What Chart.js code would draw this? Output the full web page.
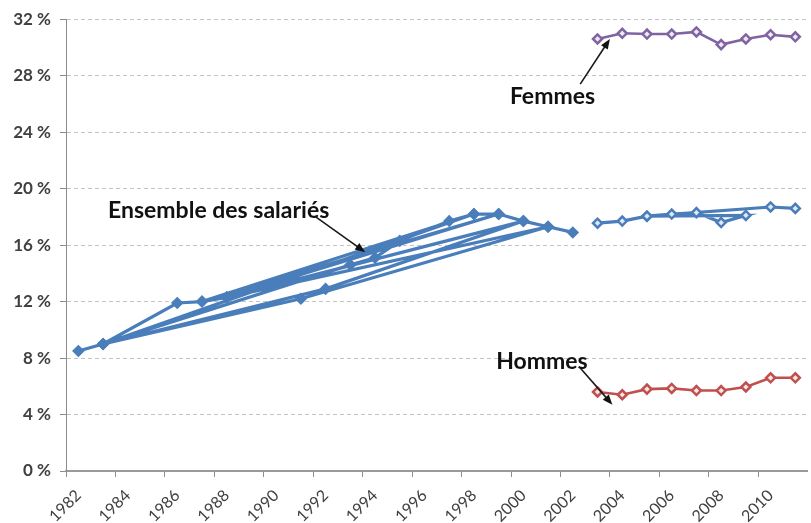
<!DOCTYPE html>
<html>
<head>
<meta charset="utf-8">
<script src="https://cdn.jsdelivr.net/npm/chart.js@4.4.1/dist/chart.umd.min.js"></script>
<style>
  html, body { margin: 0; padding: 0; background: #fff; overflow: hidden; }
  canvas { display: block; }
</style>
</head>
<body>
<canvas id="chart" width="818" height="523"></canvas>
<script>
// categories (one per year, label shown every 2 years)
const years = ['1982','1983','1984','1985','1986','1987','1988','1989','1990','1991',
               '1992','1993','1994','1995','1996','1997','1998','1999','2000','2001',
               '2002','2003','2004','2005','2006','2007','2008','2009','2010','2011'];

// Ensemble des salariés, first source: points in the order the line goes through them
const ensembleYears  = [1982, 1983, 1986, 1987, 1988, 2001, 1991, 1983, 1992, 2000, 1988, 1999,
                        1987, 1998, 1983, 1993, 1994, 1995, 1997, 1998, 1999, 2000, 2001, 2002];
const ensembleValues = [8.5, 9.0, 11.9, 12.0, 12.3, 17.3, 12.2, 9.0, 12.9, 17.7, 12.3, 18.2,
                        12.0, 18.2, 9.0, 14.6, 15.1, 16.3, 17.7, 18.2, 18.2, 17.7, 17.3, 16.9];

// Ensemble des salariés, second source
const ensemble2Years  = [2003, 2004, 2005, 2006, 2007, 2008, 2009, 2005, 2010, 2011];
const ensemble2Values = [17.55, 17.7, 18.05, 18.2, 18.3, 17.6, 18.1, 18.05, 18.7, 18.6];

const femmesYears  = [2003, 2004, 2005, 2006, 2007, 2008, 2009, 2010, 2011];
const femmesValues = [30.6, 31.0, 30.95, 30.95, 31.1, 30.2, 30.6, 30.9, 30.75];

const hommesYears  = [2003, 2004, 2005, 2006, 2007, 2008, 2009, 2010, 2011];
const hommesValues = [5.6, 5.4, 5.8, 5.85, 5.7, 5.7, 5.95, 6.6, 6.6];

const yTicks = [0, 4, 8, 12, 16, 20, 24, 28, 32];

const BLUE = '#4a7ebb';
const PURPLE = '#8064a2';
const RED = '#c0504d';

const toPoints = (xs, ys) => xs.map((x, i) => ({ x: String(x), y: ys[i] }));

// labels + arrows (positions in data units: year, percent)
const notes = [
    { text: 'Ensemble des salariés', at: [1983.2, 18.45], align: 'left',  from: [1991.6, 18.0], to: [1993.6, 15.5] },
    { text: 'Femmes',                at: [2002.9, 26.5],  align: 'right', from: [2002.3, 27.4], to: [2003.5, 30.6] },
    { text: 'Hommes',                at: [1998.9, 7.75],  align: 'left',  from: [2002.3, 7.3],  to: [2003.6, 4.7] }
];

const notesPlugin = {
    id: 'notes',
    afterDatasetsDraw(chart) {
        const { ctx, scales: { x, y } } = chart;
        const px = yr => x.getPixelForValue(yr - 1982);
        ctx.save();
        ctx.fillStyle = '#111';
        ctx.font = 'bold 23px Lato, "Open Sans", sans-serif';
        ctx.textBaseline = 'middle';
        notes.forEach(n => {
            ctx.textAlign = n.align;
            ctx.fillText(n.text, px(n.at[0]), y.getPixelForValue(n.at[1]));

            const x1 = px(n.from[0]), y1 = y.getPixelForValue(n.from[1]);
            const x2 = px(n.to[0]),   y2 = y.getPixelForValue(n.to[1]);
            const ang = Math.atan2(y2 - y1, x2 - x1);
            ctx.strokeStyle = '#1a1a1a';
            ctx.lineWidth = 1.6;
            ctx.beginPath();
            ctx.moveTo(x1, y1);
            ctx.lineTo(x2 - 6 * Math.cos(ang), y2 - 6 * Math.sin(ang));
            ctx.stroke();
            ctx.beginPath();
            ctx.moveTo(x2, y2);
            ctx.lineTo(x2 - 10 * Math.cos(ang) + 4 * Math.sin(ang), y2 - 10 * Math.sin(ang) - 4 * Math.cos(ang));
            ctx.lineTo(x2 - 10 * Math.cos(ang) - 4 * Math.sin(ang), y2 - 10 * Math.sin(ang) + 4 * Math.cos(ang));
            ctx.closePath();
            ctx.fill();
        });
        ctx.restore();
    }
};

const lineSet = (data, color, fill, width) => ({
    data,
    borderColor: color,
    backgroundColor: fill,
    borderWidth: width,
    tension: 0,
    pointStyle: 'rectRot',
    pointRadius: 4.5,
    pointBorderWidth: 2.5,
    pointBorderColor: color,
    pointBackgroundColor: fill,
});

new Chart(document.getElementById('chart'), {
    type: 'line',
    data: {
        labels: years,
        datasets: [
            lineSet(toPoints(ensembleYears, ensembleValues), BLUE, BLUE, 3.2),
            lineSet(toPoints(ensemble2Years, ensemble2Values), BLUE, '#dfe8f4', 3.2),
            lineSet(toPoints(femmesYears, femmesValues), PURPLE, '#efe9f5', 2.6),
            lineSet(toPoints(hommesYears, hommesValues), RED, '#f6e6e6', 2.6),
        ]
    },
    options: {
        responsive: false,
        animation: false,
        events: [],
        layout: { padding: { top: 9, left: 4, right: 2, bottom: 0 } },
        plugins: { legend: { display: false }, tooltip: { enabled: false } },
        scales: {
            x: {
                type: 'category',
                offset: true,
                afterFit: s => { s.height = 52; },
                grid: {
                    offset: true,
                    drawOnChartArea: false,
                    tickLength: 6,
                    tickColor: ctx => ctx.index % 2 === 0 ? '#8c8c8c' : 'rgba(0,0,0,0)',
                    color: ctx => ctx.index % 2 === 0 ? '#8c8c8c' : 'rgba(0,0,0,0)',
                },
                border: { color: '#9a9a9a', width: 2 },
                ticks: {
                    autoSkip: false,
                    minRotation: 45,
                    maxRotation: 45,
                    padding: 9,
                    color: '#404040',
                    font: { family: 'Lato, "Open Sans", sans-serif', size: 16 },
                    callback: (v, i) => i % 2 === 0 ? years[i] : ''
                }
            },
            y: {
                min: 0,
                max: 32,
                afterFit: s => { s.width = 62; },
                afterBuildTicks: s => { s.ticks = yTicks.map(v => ({ value: v })); },
                grid: { color: '#c4c4c4', tickColor: '#8c8c8c', tickLength: 6 },
                border: { color: '#8c8c8c', width: 1, dash: [4, 3] },
                ticks: {
                    padding: 9,
                    color: '#404040',
                    font: { family: 'Lato, "Open Sans", sans-serif', size: 17, weight: 'bold' },
                    callback: v => v + ' %'
                }
            }
        }
    },
    plugins: [notesPlugin]
});
</script>
</body>
</html>
